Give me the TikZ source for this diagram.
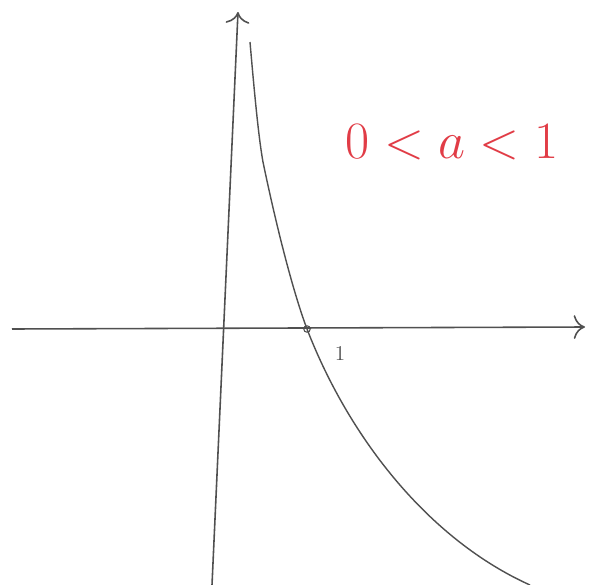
\documentclass[tikz,border=0pt]{standalone}
\usepackage{graphicx}
\usepackage{tikz}
\usetikzlibrary{arrows,arrows.meta,positioning,calc}
\usepackage{xcolor}
\definecolor{penred}{RGB}{225,60,70}
\definecolor{pencil}{RGB}{80,80,80}

\begin{document}
\begin{tikzpicture}[x=0.02cm, y=-0.02cm, every node/.style={font=\scriptsize}]
        \useasboundingbox (0,0) rectangle (589,585);
        \fill[white] (0,0) rectangle (589,585);

        % axes
        \coordinate (xstart) at (12,329);
        \coordinate (xend) at (585,327);
        \coordinate (ystart) at (212,585);
        \coordinate (yend) at (238,12);
        \draw[-{To[scale=1.8]}, pencil, line width=0.9pt] (xstart) -- (xend);
        \draw[-{To[scale=1.8]}, pencil, line width=0.9pt] (ystart) -- (yend);

        % log curve, base between 0 and 1
        \coordinate (ctop) at (250,42);
        \coordinate (cbend) at (263,162);
        \coordinate (cend) at (530,585);
        \node[circle, draw=pencil, inner sep=1.3pt, line width=0.6pt] (one) at (307,329) {};
        \draw[pencil, line width=0.8pt] (ctop) .. controls (255,100) and (259,140) .. (cbend)
            .. controls (275,220) and (292,289) .. (one.center)
            .. controls (350,440) and (430,540) .. (cend);
        \node[pencil, font=\large] (onelabel) at (340,353) {1};

        \node[penred, font=\Huge] (cond) at (452,142) {\scalebox{1.2}{$0<a<1$}};
    \end{tikzpicture}
\end{document}
